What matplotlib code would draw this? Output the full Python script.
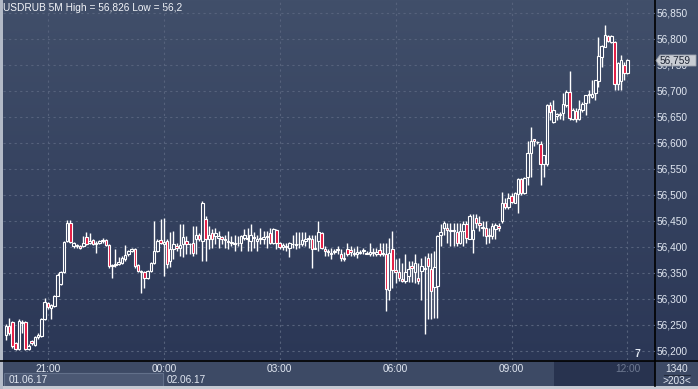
"""USDRUB 5-minute candlestick chart, terminal style."""

import matplotlib

matplotlib.use("Agg")
import matplotlib.pyplot as plt
import numpy as np
import pandas as pd
from matplotlib.colors import LinearSegmentedColormap
from matplotlib.patches import Polygon, Rectangle

plt.rcParams["font.family"] = ["Liberation Sans", "DejaVu Sans"]

TITLE = "USDRUB 5M High = 56,826 Low = 56,2"
START = "2017-06-01 19:55"
LAST_PRICE = "56,759"
BAR_COUNT_LABEL = "1340"
VISIBLE_LABEL = ">203<"
DATE_LABELS = ["01.06.17", "02.06.17"]
PRICE_LEVELS = list(range(56200, 56851, 50))

opens = [
    56230, 56249, 56256, 56216, 56203, 56254, 56256, 56204, 56219, 56211,
    56226, 56229, 56261, 56292, 56283, 56287, 56306, 56328, 56352, 56412,
    56447, 56402, 56401, 56402, 56402, 56420, 56408, 56413, 56406, 56408,
    56411, 56413, 56404, 56363, 56365, 56367, 56370, 56376, 56386, 56392,
    56396, 56365, 56351, 56351, 56341, 56354, 56370, 56392, 56413, 56406,
    56412, 56373, 56396, 56402, 56399, 56406, 56412, 56405, 56408, 56415,
    56423, 56412, 56453, 56415, 56426, 56421, 56418, 56419, 56415, 56412,
    56408, 56408, 56407, 56408, 56418, 56416, 56412, 56419, 56412, 56416,
    56416, 56419, 56426, 56408, 56432, 56408, 56400, 56402, 56399, 56405,
    56404, 56405, 56405, 56412, 56415, 56416, 56397, 56412, 56426, 56396,
    56392,
    56386, 56390, 56394, 56386, 56379, 56397, 56394, 56386, 56387, 56389,
    56392, 56388, 56387, 56389, 56387, 56394, 56386, 56386, 56318, 56397,
    56356, 56352, 56339, 56335, 56344, 56363, 56351, 56341, 56354, 56357,
    56379, 56358, 56324, 56325, 56424, 56437, 56437, 56431, 56432, 56429,
    56408, 56431, 56444, 56416, 56416, 56456, 56447, 56437, 56437, 56422,
    56422, 56434, 56440,
    56450, 56485, 56476, 56498, 56485, 56502, 56530, 56503, 56534, 56580,
    56607, 56601, 56599, 56559, 56559, 56674, 56641, 56651, 56655, 56657,
    56673, 56699, 56647, 56662, 56646, 56663, 56676, 56692, 56689, 56697,
    56720, 56766, 56785, 56806, 56795, 56795, 56713, 56720, 56750, 56734,
]
highs = [
    56252, 56264, 56258, 56218, 56262, 56260, 56258, 56214, 56221, 56228,
    56235, 56263, 56301, 56294, 56290, 56308, 56350, 56354, 56412, 56451,
    56451, 56410, 56405, 56404, 56421, 56428, 56426, 56416, 56411, 56413,
    56418, 56416, 56406, 56368, 56397, 56380, 56382, 56403, 56395, 56399,
    56398, 56367, 56356, 56353, 56356, 56372, 56450, 56415, 56453, 56455,
    56415, 56428, 56431, 56408, 56444, 56444, 56421, 56408, 56440, 56440,
    56426, 56488, 56460, 56440, 56434, 56437, 56431, 56421, 56424, 56431,
    56421, 56424, 56421, 56424, 56434, 56437, 56444, 56428, 56424, 56437,
    56431, 56431, 56437, 56436, 56434, 56410, 56407, 56408, 56410, 56424,
    56428, 56428, 56428, 56428, 56424, 56424, 56424, 56450, 56428, 56402,
    56396,
    56399, 56396, 56402, 56396, 56390, 56408, 56402, 56399, 56402, 56394,
    56399, 56392, 56408, 56399, 56399, 56408, 56408, 56408, 56418, 56431,
    56376, 56379, 56370, 56386, 56373, 56373, 56386, 56370, 56379, 56383,
    56389, 56389, 56392, 56424, 56444, 56450, 56447, 56447, 56447, 56447,
    56447, 56450, 56450, 56463, 56463, 56463, 56460, 56450, 56450, 56437,
    56447, 56447, 56447,
    56506, 56494, 56503, 56503, 56506, 56532, 56532, 56535, 56604, 56631,
    56608, 56603, 56603, 56577, 56675, 56678, 56683, 56657, 56660, 56697,
    56702, 56738, 56667, 56667, 56683, 56678, 56692, 56702, 56722, 56722,
    56804, 56788, 56826, 56808, 56808, 56797, 56756, 56769, 56756, 56762,
]
lows = [
    56222, 56230, 56206, 56201, 56201, 56235, 56201, 56202, 56211, 56210,
    56223, 56227, 56259, 56281, 56261, 56285, 56305, 56326, 56350, 56410,
    56407, 56399, 56398, 56396, 56400, 56404, 56406, 56403, 56389, 56405,
    56408, 56401, 56360, 56341, 56362, 56365, 56368, 56374, 56383, 56390,
    56360, 56351, 56312, 56322, 56338, 56352, 56368, 56390, 56405, 56344,
    56360, 56362, 56376, 56393, 56383, 56380, 56386, 56386, 56383, 56386,
    56412, 56373, 56373, 56396, 56399, 56405, 56399, 56405, 56399, 56396,
    56402, 56392, 56402, 56392, 56413, 56392, 56392, 56399, 56392, 56405,
    56405, 56399, 56405, 56405, 56397, 56396, 56394, 56392, 56380, 56399,
    56396, 56399, 56402, 56402, 56399, 56360, 56396, 56392, 56396, 56383,
    56383,
    56376, 56386, 56386, 56373, 56373, 56383, 56383, 56383, 56379, 56386,
    56386, 56386, 56383, 56383, 56383, 56383, 56383, 56277, 56299, 56322,
    56331, 56335, 56333, 56331, 56333, 56333, 56331, 56328, 56299, 56232,
    56261, 56261, 56264, 56264, 56402, 56424, 56408, 56402, 56402, 56402,
    56405, 56402, 56408, 56415, 56389, 56437, 56431, 56422, 56405, 56408,
    56416, 56416, 56430,
    56446, 56474, 56474, 56484, 56484, 56465, 56500, 56502, 56519, 56535,
    56595, 56599, 56519, 56535, 56555, 56644, 56639, 56644, 56646, 56644,
    56670, 56644, 56644, 56641, 56644, 56660, 56654, 56676, 56687, 56683,
    56708, 56747, 56785, 56795, 56793, 56702, 56702, 56702, 56721, 56733,
]
closes = [
    56249, 56235, 56210, 56204, 56258, 56256, 56203, 56210, 56215, 56226,
    56231, 56261, 56294, 56284, 56288, 56306, 56347, 56351, 56410, 56447,
    56410, 56408, 56403, 56399, 56408, 56406, 56412, 56406, 56408, 56411,
    56414, 56404, 56364, 56366, 56368, 56371, 56378, 56384, 56392, 56396,
    56363, 56354, 56354, 56341, 56354, 56370, 56392, 56412, 56408, 56410,
    56367, 56396, 56405, 56399, 56404, 56419, 56405, 56406, 56389, 56423,
    56415, 56485, 56415, 56424, 56415, 56426, 56421, 56416, 56413, 56410,
    56410, 56406, 56408, 56421, 56423, 56418, 56424, 56418, 56415, 56418,
    56419, 56421, 56408, 56434, 56408, 56400, 56404, 56400, 56408, 56406,
    56406, 56406, 56413, 56415, 56417, 56397, 56399, 56428, 56399, 56392,
    56391,
    56389, 56392, 56396, 56379, 56377, 56387, 56390, 56389, 56390, 56390,
    56393, 56387, 56390, 56389, 56390, 56386, 56389, 56320, 56389, 56356,
    56351, 56341, 56335, 56351, 56357, 56360, 56370, 56335, 56363, 56360,
    56363, 56315, 56362, 56422, 56428, 56446, 56433, 56433, 56431, 56407,
    56431, 56444, 56418, 56460, 56433, 56447, 56442, 56437, 56422, 56424,
    56440, 56442, 56436,
    56484, 56476, 56494, 56487, 56503, 56530, 56503, 56532, 56580, 56604,
    56603, 56602, 56559, 56577, 56673, 56660, 56663, 56655, 56654, 56675,
    56699, 56649, 56663, 56646, 56665, 56675, 56692, 56693, 56694, 56721,
    56767, 56787, 56808, 56797, 56806, 56713, 56754, 56760, 56734, 56759,
]

W, H = 698, 389
PLOT_RIGHT, PLOT_BOTTOM = 655, 360
BG_TOP, BG_BOTTOM = "#414f6a", "#2b3756"
BULL_FILL = "#34415e"
BEAR_FILL = "#e3163e"
GRID = "#56627c"
TEXT = "#e2e8f2"


def price_to_px(p):
    # pixel row of a price on the right scale (50 units = 26 px)
    return 13 + (56850 - p) * 0.52


frame = pd.DataFrame({"open": opens, "high": highs, "low": lows, "close": closes})
frame["time"] = pd.date_range(START, periods=len(frame), freq="5min")
idx = np.arange(len(frame))

fig = plt.figure(figsize=(W / 100, H / 100), dpi=100)

# background layer in pixel coordinates
bg = fig.add_axes([0, 0, 1, 1])
bg.set_xlim(0, W)
bg.set_ylim(H, 0)
bg.axis("off")
cmap = LinearSegmentedColormap.from_list("panel", [BG_TOP, BG_BOTTOM])
bg.imshow(np.linspace(0, 1, 256)[:, None], cmap=cmap, aspect="auto",
          extent=(0, W, PLOT_BOTTOM, 0), zorder=0)

# bottom time panel
bg.add_patch(Rectangle((0, PLOT_BOTTOM), W, H - PLOT_BOTTOM, fc="#3d4a65", ec="none", zorder=1))
bg.add_patch(Rectangle((554, PLOT_BOTTOM + 1), PLOT_RIGHT - 554, 25, fc="#28334f", ec="none", zorder=1))
bg.add_patch(Rectangle((4, 373), 159, 12.5, fc="#4b5873", ec="#62708a", lw=0.8, zorder=2))
bg.add_patch(Rectangle((0, 386), W, 3, fc="#c4c9d2", ec="none", zorder=3))
bg.add_patch(Rectangle((0, 0), 2.5, H, fc="#b3bac7", ec="none", zorder=3))
bg.plot([PLOT_RIGHT, PLOT_RIGHT], [0, 386], color="black", lw=1.2, zorder=4)
bg.plot([0, W], [PLOT_BOTTOM + 0.5, PLOT_BOTTOM + 0.5], color="black", lw=1.2, zorder=4)

# main candle axes
ax = fig.add_axes([3 / W, (H - PLOT_BOTTOM) / H, (PLOT_RIGHT - 3) / W, PLOT_BOTTOM / H])
ax.patch.set_alpha(0)
for spine in ax.spines.values():
    spine.set_visible(False)
ax.set_xticks([])
ax.set_yticks([])
ax.set_xlim(-0.93, 201.55)
ax.set_ylim(56850 - 347 / 0.52, 56875)

for level in PRICE_LEVELS:
    ax.axhline(level, color=GRID, lw=0.8, ls=(0, (2, 3)), zorder=1)

tick_mask = (frame["time"].dt.minute == 0) & (frame["time"].dt.hour % 3 == 0)
tick_idx = idx[tick_mask.to_numpy()]
for i in tick_idx:
    ax.axvline(i, color=GRID, lw=0.8, ls=(0, (2, 3)), zorder=1)

ax.vlines(idx, frame["low"], frame["high"], color="white", lw=1.0, zorder=2)
body_low = np.minimum(frame["open"], frame["close"])
body_h = np.maximum((frame["close"] - frame["open"]).abs(), 1.5)
colors = np.where(frame["close"] >= frame["open"], BULL_FILL, BEAR_FILL)
ax.bar(idx, body_h, bottom=body_low, width=0.78, color=colors,
       edgecolor="white", linewidth=0.8, zorder=3)

# right price scale
for level in PRICE_LEVELS:
    bg.text(657, price_to_px(level), f"{level // 1000},{level % 1000:03d}",
            color=TEXT, fontsize=7.3, va="center", ha="left", zorder=5)
bg.add_patch(Polygon([(656, 60.5), (660, 55), (696, 55), (696, 66), (660, 66)],
                     closed=True, fc="#c8ccd3", ec="#9ba2ad", lw=0.6, zorder=6))
bg.text(660, 60.7, LAST_PRICE, color="#1c2333", fontsize=7.3, va="center", ha="left", zorder=7)

# time axis labels
x0_px, px_per_bar = 6, 3.22
for i in tick_idx:
    label = frame["time"].iloc[i].strftime("%H:%M")
    col = "#6f7a92" if i == tick_idx[-1] else TEXT
    bg.text(x0_px + px_per_bar * i, 368.5, label, color=col, fontsize=7.3,
            ha="center", va="center", zorder=5)
midnight = idx[(frame["time"].dt.hour == 0) & (frame["time"].dt.minute == 0)][0]
bg.text(9, 380, DATE_LABELS[0], color=TEXT, fontsize=7.3, va="center", ha="left", zorder=5)
bg.text(x0_px + px_per_bar * midnight + 3, 380, DATE_LABELS[1], color=TEXT, fontsize=7.3,
        va="center", ha="left", zorder=5)

bg.text(677, 368.5, BAR_COUNT_LABEL, color=TEXT, fontsize=7.3, ha="center", va="center", zorder=5)
bg.plot([664, 690], [374.5, 374.5], color="#232b3d", lw=0.8, zorder=5)
bg.text(677, 380.5, VISIBLE_LABEL, color=TEXT, fontsize=7.3, ha="center", va="center", zorder=5)

bg.text(637, 354, "7", color=TEXT, fontsize=7.5, fontweight="bold", ha="center", va="center", zorder=5)
bg.text(3, 8, TITLE, color="#f2f4f8", fontsize=7.3, ha="left", va="center", zorder=5)

fig.savefig("out.png", dpi=100)
